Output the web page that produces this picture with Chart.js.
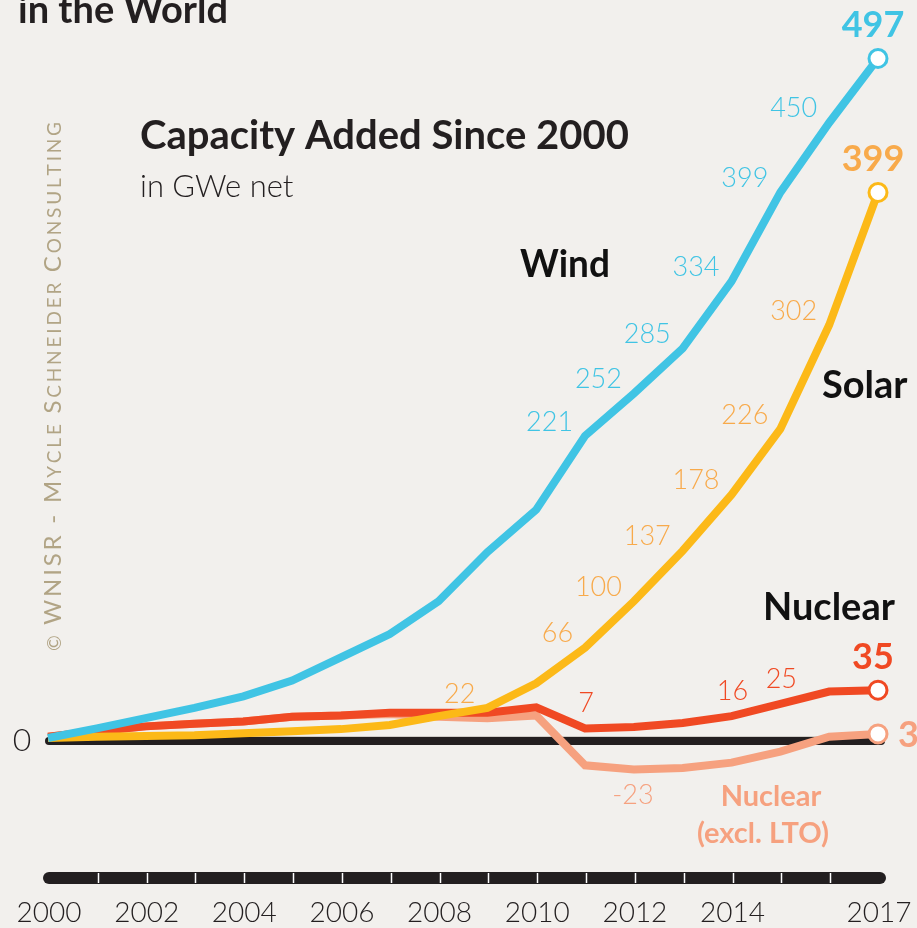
<!DOCTYPE html>
<html>
<head>
<meta charset="utf-8">
<script src="https://cdn.jsdelivr.net/npm/chart.js@4.4.1/dist/chart.umd.min.js"></script>
<style>
  body { margin: 0; background: #f2f0ed; }
  canvas { display: block; }
</style>
</head>
<body>
<canvas id="myChart" width="917" height="928"></canvas>
<script>
const years = ['2000', '2001', '2002', '2003', '2004', '2005', '2006', '2007', '2008',
  '2009', '2010', '2011', '2012', '2013', '2014', '2015', '2016', '2017'];
const tickLabels = ['2000', '2002', '2004', '2006', '2008', '2010', '2012', '2014', '2017'];

// GWe net added since 2000
const wind = [0, 7, 14.5, 22, 30.5, 42, 59, 76, 100, 136, 167, 221, 252, 285, 334, 399, 450, 497];
const solar = [0, 1, 1.5, 2, 3.5, 5, 6.5, 9.5, 16, 22, 40, 66, 100, 137, 178, 226, 302, 399];
const nuclear = [1, 5, 8.5, 10.5, 12, 15.5, 16.5, 18.5, 18.5, 18.5, 22.5, 7, 8, 11, 16, 25, 34, 35];
const nuclearExclLto = [1, 5, 8.5, 10.5, 12, 15.5, 16.5, 17.5, 15.5, 14.5, 16.5, -20, -23, -22, -18, -10, 1, 3];

const windLabelled = ['2011', '2012', '2013', '2014', '2015', '2016'];
const solarLabelled = ['2009', '2011', '2012', '2013', '2014', '2015', '2016'];
const nuclearLabelled = ['2011', '2014', '2015'];
const exclLabelled = ['2012'];

const ink = '#231f20';
const blue = '#40c4e4';
const yellow = '#fcb918';
const red = '#f04923';
const salmon = '#f6a17f';
const lightOrange = '#f8aa4b';
const last = years.length - 1;

function text(ctx, str, x, y, font, color, align, maxW, base) {
  ctx.font = font;
  ctx.fillStyle = color;
  ctx.textAlign = align || 'left';
  ctx.textBaseline = base || 'alphabetic';
  if (maxW) ctx.fillText(str, x, y, maxW); else ctx.fillText(str, x, y);
}

function watermark(ctx) {
  const parts = [['\u00a9 ', 0], ['WNISR - M', 1], ['YCLE ', 0], ['S', 1], ['CHNEIDER ', 0], ['C', 1], ['ONSULTING', 0]];
  const chars = [];
  parts.forEach(([s, big]) => s.split('').forEach(c => chars.push([c, big ? '24px Lato' : '19px Lato'])));
  let natural = 0;
  chars.forEach(([c, f]) => { ctx.font = f; natural += ctx.measureText(c).width; });
  const gap = (529 - natural) / (chars.length - 1);
  ctx.save();
  ctx.translate(61, 651);
  ctx.rotate(-Math.PI / 2);
  ctx.fillStyle = '#b1a485';
  ctx.textBaseline = 'alphabetic';
  ctx.textAlign = 'left';
  let px = 0;
  chars.forEach(([c, f]) => {
    ctx.font = f;
    ctx.fillText(c, px, 0);
    px += ctx.measureText(c).width + gap;
  });
  ctx.restore();
}

const decorations = {
  id: 'decorations',
  beforeDatasetsDraw(chart) {
    const { ctx, scales: { x, y } } = chart;
    const y0 = y.getPixelForValue(0);
    ctx.save();
    ctx.lineCap = 'round';
    ctx.strokeStyle = ink;
    ctx.lineWidth = 8;
    ctx.beginPath();
    ctx.moveTo(x.getPixelForValue(0) + 1, y0 + 3);
    ctx.lineTo(x.getPixelForValue(last) + 3, y0 + 3);
    ctx.stroke();
    ctx.lineCap = 'butt';
    ctx.strokeStyle = '#cfccc7';
    ctx.lineWidth = 1;
    ctx.beginPath();
    ctx.moveTo(x.getPixelForValue(0), y0 - 1.5);
    ctx.lineTo(x.getPixelForValue(last), y0 - 1.5);
    ctx.stroke();
    ctx.restore();

    text(ctx, '0', 22, y0 + 3, '300 32px Lato', ink, 'center', null, 'middle');
    watermark(ctx);
    text(ctx, 'in the World', 18, 23, 'bold 38px Lato', ink, 'left', 244);
    text(ctx, 'Capacity Added Since 2000', 140, 149, 'bold 40px Lato', ink, 'left', 490);
    text(ctx, 'in GWe net', 140, 197, '300 31px Lato', ink, 'left', 171);
  },
  afterDatasetsDraw(chart) {
    const { ctx } = chart;
    chart.data.datasets.forEach((ds, i) => {
      const pts = chart.getDatasetMeta(i).data;
      ds.labelled.forEach(yr => {
        const k = years.indexOf(yr);
        const p = pts[k];
        const v = String(ds.data[k]);
        if (ds.labelSide === 'left') {
          text(ctx, v, p.x - 12, p.y - 14, '300 27px Lato', ds.labelColor, 'right', null, 'middle');
        } else if (ds.labelSide === 'above') {
          text(ctx, v, p.x + 1, p.y - 25, '300 27px Lato', ds.labelColor, 'center', null, 'middle');
        } else {
          text(ctx, v, p.x - 1, p.y + 26, '300 27px Lato', ds.labelColor, 'center', null, 'middle');
        }
      });
      const e = pts[last];
      const ev = String(ds.data[last]);
      if (ds.endSide === 'right') {
        text(ctx, ev, e.x + 20, e.y + 1, 'bold 36px Lato', ds.endColor, 'left', null, 'middle');
      } else {
        text(ctx, ev, e.x - 5, e.y - 33, 'bold 36px Lato', ds.endColor, 'center', null, 'middle');
      }
    });

    text(ctx, 'Wind', 520, 277, 'bold 38px Lato', '#111', 'left', 90);
    text(ctx, 'Solar', 822, 398, 'bold 38px Lato', '#111', 'left', 88);
    text(ctx, 'Nuclear', 763, 620, 'bold 38px Lato', '#111', 'left', 132);
    text(ctx, 'Nuclear', 771, 806, 'bold 29px Lato', salmon, 'center', 104);
    text(ctx, '(excl. LTO)', 763, 843, 'bold 29px Lato', salmon, 'center', 155);
  },
  afterDraw(chart) {
    const { ctx, scales: { x } } = chart;
    ctx.save();
    ctx.lineCap = 'round';
    ctx.strokeStyle = ink;
    ctx.lineWidth = 12;
    ctx.beginPath();
    ctx.moveTo(49, 878);
    ctx.lineTo(880, 878);
    ctx.stroke();
    ctx.lineCap = 'butt';
    ctx.strokeStyle = '#ffffff';
    ctx.lineWidth = 1.5;
    for (let i = 1; i < last; i++) {
      const px = Math.round(x.getPixelForValue(i)) + 1.5;
      ctx.beginPath();
      ctx.moveTo(px, 873);
      ctx.lineTo(px, 883);
      ctx.stroke();
    }
    ctx.restore();
    // year labels under the bar
    years.forEach((yr, i) => {
      if (tickLabels.includes(yr)) {
        text(ctx, yr, x.getPixelForValue(i) + 1, 913, '300 28px Lato', ink, 'center', null, 'middle');
      }
    });
  }
};

function series(label, data, color, extra) {
  return Object.assign({
    label: label,
    data: data,
    borderColor: color,
    borderWidth: 8,
    borderJoinStyle: 'miter',
    fill: false,
    tension: 0,
    clip: false,
    pointRadius: c => (c.dataIndex === last ? 9 : 0),
    pointHoverRadius: 0,
    pointBackgroundColor: '#ffffff',
    pointBorderColor: color,
    pointBorderWidth: 3
  }, extra);
}

const myChart = document.getElementById('myChart').getContext('2d');
const lineChart = new Chart(myChart, {
  type: 'line',
  data: {
    labels: years,
    datasets: [
      series('Wind', wind, blue, { labelled: windLabelled, labelSide: 'left', labelColor: blue, endColor: blue }),
      series('Solar', solar, yellow, { labelled: solarLabelled, labelSide: 'left', labelColor: lightOrange, endColor: lightOrange }),
      series('Nuclear', nuclear, red, { labelled: nuclearLabelled, labelSide: 'above', labelColor: red, endColor: red }),
      series('Nuclear (excl. LTO)', nuclearExclLto, salmon, { labelled: exclLabelled, labelSide: 'below', labelColor: salmon, endColor: salmon, endSide: 'right' })
    ]
  },
  options: {
    responsive: false,
    animation: false,
    layout: { padding: { top: 27, left: 48, right: 39, bottom: 0 } },
    plugins: { legend: { display: false }, tooltip: { enabled: false } },
    scales: {
      x: {
        offset: false,
        grid: { display: false, drawTicks: false },
        border: { display: false },
        ticks: { display: false },
        afterFit: s => { s.height = 56; }
      },
      y: {
        display: false,
        min: -98,
        max: 520
      }
    }
  },
  plugins: [decorations]
});
</script>
</body>
</html>
